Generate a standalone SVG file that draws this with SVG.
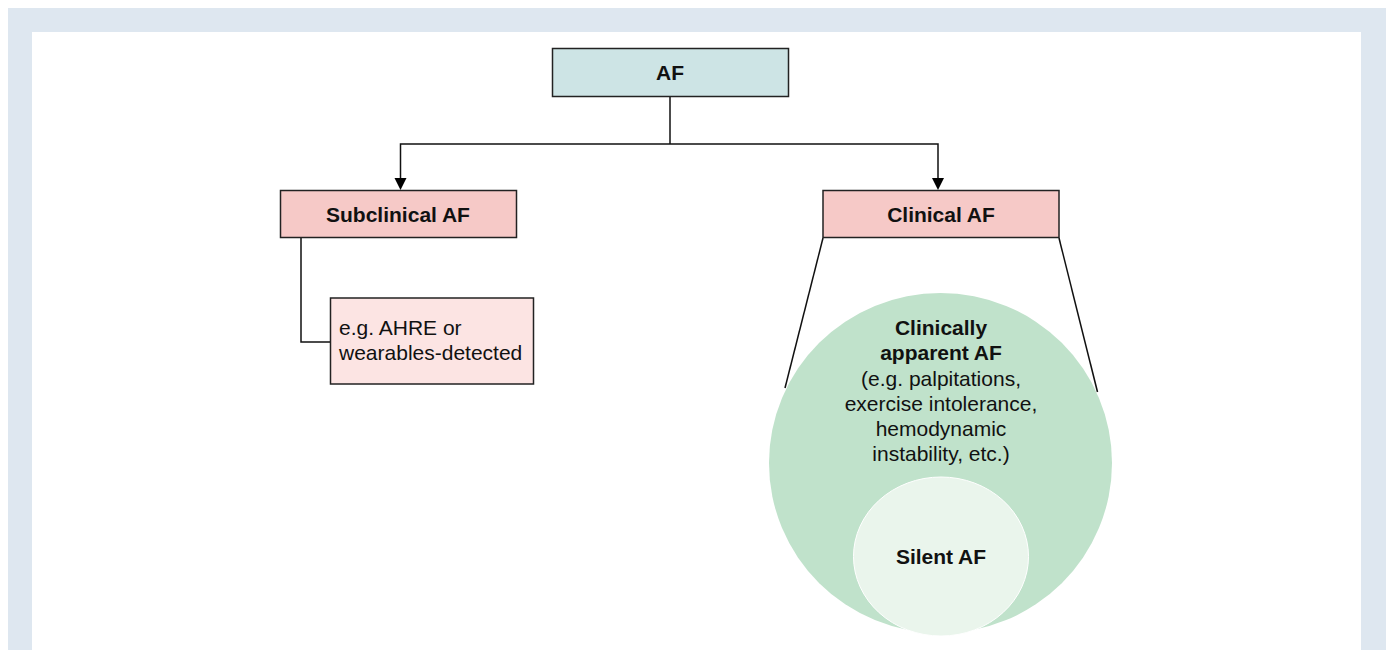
<svg xmlns="http://www.w3.org/2000/svg" width="1386" height="650" viewBox="0 0 1386 650">
<style>
text{font-family:"Liberation Sans",Arial,sans-serif;font-size:21px;fill:#111;}
.b{font-weight:bold;}
.box{stroke:#222;stroke-width:1.5;}
.ln{fill:none;stroke:#111;stroke-width:1.5;}
</style>
<defs>
<marker id="arr" viewBox="0 0 12 12" refX="6" refY="12" markerWidth="12" markerHeight="12" markerUnits="userSpaceOnUse" orient="auto-start-reverse">
<path d="M0,0 L12,0 L6,12 Z" fill="#000" transform="rotate(0)"/>
</marker>
</defs>
<rect x="0" y="0" width="1386" height="650" fill="#ffffff"/>
<rect x="8" y="8" width="1378" height="642" fill="#dee7f0"/>
<rect x="32" y="32" width="1329" height="618" fill="#ffffff"/>
<g id="connectors">
<line class="ln" x1="670" y1="97" x2="670" y2="144"/>
<polyline class="ln" points="400.5,178 400.5,144 938,144 938,178"/>
<path d="M394.5,178 L406.5,178 L400.5,190 Z" fill="#000"/>
<path d="M932,178 L944,178 L938,190 Z" fill="#000"/>
<polyline class="ln" points="301,238 301,342 330,342"/>
<line class="ln" x1="823" y1="238" x2="785" y2="388"/>
<line class="ln" x1="1059" y1="238" x2="1097.5" y2="392"/>
</g>
<g id="af">
<rect class="box" x="552.5" y="48.5" width="236" height="48" fill="#cde4e5"/>
<text class="b" x="670" y="80" text-anchor="middle">AF</text>
</g>
<g id="subclinical">
<rect class="box" x="280.5" y="190.5" width="236" height="47" fill="#f6c9c7"/>
<text class="b" x="398" y="222" text-anchor="middle">Subclinical AF</text>
</g>
<g id="example">
<rect class="box" x="330.5" y="298" width="203" height="86" fill="#fce4e3"/>
<text x="339" y="335">e.g. AHRE or</text>
<text x="339" y="360">wearables-detected</text>
</g>
<g id="clinical">
<rect class="box" x="823" y="190.5" width="236" height="47" fill="#f6c9c7"/>
<text class="b" x="941" y="222" text-anchor="middle">Clinical AF</text>
</g>
<g id="apparent">
<ellipse cx="940.5" cy="463" rx="171.5" ry="170" fill="#c0e2cb"/>
<text class="b" x="941" y="335" text-anchor="middle">Clinically</text>
<text class="b" x="941" y="360" text-anchor="middle">apparent AF</text>
<text x="941" y="386" text-anchor="middle">(e.g. palpitations,</text>
<text x="941" y="411" text-anchor="middle">exercise intolerance,</text>
<text x="941" y="436" text-anchor="middle">hemodynamic</text>
<text x="941" y="461" text-anchor="middle">instability, etc.)</text>
</g>
<g id="silent">
<ellipse cx="941" cy="556.5" rx="87.5" ry="79.5" fill="#eaf5ec" stroke="#ffffff" stroke-width="1"/>
<text class="b" x="941" y="564" text-anchor="middle">Silent AF</text>
</g>
</svg>
